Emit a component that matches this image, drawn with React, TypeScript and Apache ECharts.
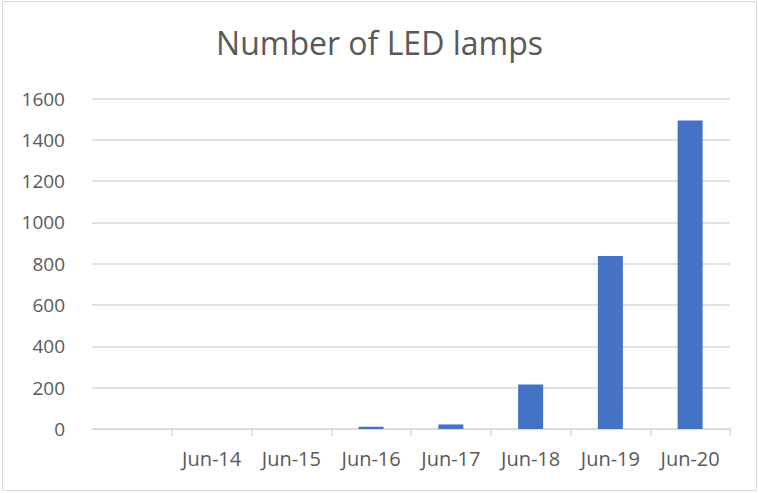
import React, { useEffect, useRef } from "react";
import * as echarts from "echarts";

const categories = ["", "Jun-14", "Jun-15", "Jun-16", "Jun-17", "Jun-18", "Jun-19", "Jun-20"];
const lampCounts = [null, 0, 0, 11, 22, 216, 837, 1493];
const yMin = 0;
const yMax = 1600;
const yStep = 200;
const titleText = "Number of LED lamps";

export default function App() {
  const ref = useRef<HTMLDivElement>(null);
  useEffect(() => {
    document.body.style.margin = "0";
    const chart = echarts.init(ref.current!, null, { renderer: "svg" });
    const font = "'Open Sans', sans-serif";
    chart.setOption({
      animation: false,
      backgroundColor: "#ffffff",
      title: {
        text: titleText,
        left: "center",
        top: 21,
        textStyle: { fontFamily: font, fontSize: 32, fontWeight: "normal", color: "#595959" },
      },
      graphic: [
        {
          type: "rect",
          shape: { x: 2.5, y: 1.5, width: 754, height: 489 },
          style: { fill: "none", stroke: "#d9d9d9", lineWidth: 1 },
          silent: true,
        },
      ],
      grid: { left: 92, right: 29, top: 98.5, bottom: 64, containLabel: false },
      xAxis: {
        type: "category",
        data: categories,
        boundaryGap: true,
        axisLine: { lineStyle: { color: "#d9d9d9", width: 1.5 } },
        axisTick: {
          show: true,
          length: 7,
          interval: (index: number) => index !== 0,
          lineStyle: { color: "#d9d9d9", width: 1.5 },
        },
        axisLabel: { fontFamily: font, fontSize: 20, color: "#595959", margin: 19 },
      },
      yAxis: {
        type: "value",
        min: yMin,
        max: yMax,
        interval: yStep,
        axisLine: { show: false },
        axisTick: { show: false },
        splitLine: { lineStyle: { color: "#d9d9d9", width: 1.5 } },
        axisLabel: {
          fontFamily: font,
          fontSize: 19,
          color: "#595959",
          margin: 27,
          formatter: (v: number) => String(v),
        },
      },
      series: [
        {
          type: "bar",
          data: lampCounts,
          barWidth: 25,
          itemStyle: { color: "#4472C4" },
        },
      ],
    });
    return () => chart.dispose();
  }, []);
  return <div ref={ref} style={{ width: 759, height: 493, position: "absolute", left: 0, top: 0 }} />;
}
